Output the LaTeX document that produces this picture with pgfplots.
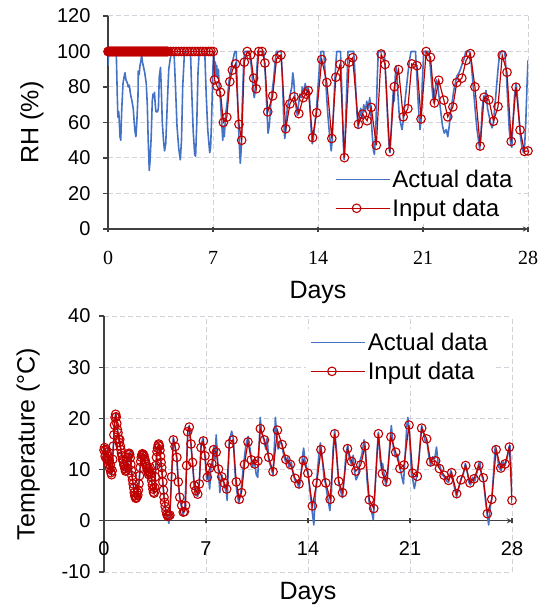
\documentclass[border=0pt]{standalone}
\usepackage{fontspec}
\setmainfont{Liberation Sans}
\newfontfamily\timesfont{Liberation Serif}
\usepackage{pgfplots}
\pgfplotsset{compat=1.18}

\definecolor{actual}{HTML}{4472C4}
\definecolor{inred}{HTML}{C00000}
\definecolor{gridc}{HTML}{D2D2DA}
\definecolor{axisc}{HTML}{404040}

\pgfplotsset{
  panel/.style={
    scale only axis,
    axis y line=left,
    axis line style={axisc, line width=1.3pt, -},
    tick style={axisc, line width=1.3pt},
    tick align=outside, major tick length=5pt,
    grid=major,
    grid style={gridc, line width=1pt, dash pattern=on 5pt off 3pt},
    xmin=0, xmax=28, xtick={0,7,14,21,28},
    /pgf/number format/assume math mode=true,
    ticklabel style={font=\fontsize{20}{24}\selectfont},
    label style={font=\fontsize{25}{30}\selectfont},
    legend cell align=left,
    legend style={draw=none, fill=white, font=\fontsize{24}{28}\selectfont,
      row sep=6pt, inner xsep=4pt, inner ysep=2pt},
    legend image code/.code={
      \draw[mark repeat=2, mark phase=2, #1] plot coordinates {(0pt,0pt) (21pt,0pt) (42pt,0pt)};
      \path (0pt,0pt) -- (54pt,0pt);
    },
  },
  actualline/.style={color=actual, line width=1.6pt, line join=round},
  inputline/.style={color=inred, line width=1.2pt, mark=o, mark size=4.3pt,
    mark options={solid, line width=1.1pt}},
}

\begin{document}
\begin{tikzpicture}
\useasboundingbox (0pt,0pt) rectangle (547pt,-609pt);

% ---------- RH ----------
\begin{axis}[panel,
  at={(108pt,-229pt)}, anchor=south west,
  width=420pt, height=213pt,
  axis x line=bottom,
  ymin=0, ymax=120, ytick={0,20,...,120},
  xticklabel style={font=\timesfont\fontsize{20}{24}\selectfont, yshift=-16pt},
  yticklabel style={xshift=-9pt},
  xlabel={Days}, ylabel={RH (\%)},
  xlabel style={at={(axis description cs:0.5,-0.296)}, anchor=center},
  ylabel style={at={(axis description cs:-0.181,0.5)}, anchor=center},
  legend style={at={(axis description cs:0.53,0.297)}, anchor=north west},
]
\addplot[actualline] coordinates {
(0,92)(0.05,100)(0.55,100)(0.62,75)(0.66,63)(0.72,66)(0.8,52)(0.85,50)(0.92,68)(1.0,82)
(1.08,86)(1.13,88)(1.2,84)(1.3,82)(1.35,80)(1.42,81)(1.5,76)(1.6,72)(1.68,68)(1.75,60)
(1.8,55)(1.86,52)(1.92,60)(2.0,75)(2.02,89)(2.08,87)(2.13,92)(2.2,95)(2.24,98)(2.3,94)
(2.35,92)(2.45,88)(2.55,82)(2.62,70)(2.68,50)(2.75,33)(2.8,38)(2.88,52)(2.95,72)(3.0,76)
(3.05,74)(3.1,77)(3.15,70)(3.2,66)(3.3,66)(3.36,68)(3.42,86)(3.5,91)(3.55,80)(3.62,60)
(3.7,50)(3.77,44)(3.85,48)(3.95,70)(4.05,90)(4.15,96)(4.25,100)(4.4,100)(4.5,80)(4.6,58)
(4.72,45)(4.82,39)(4.9,50)(4.98,80)(5.1,100)(5.5,100)(5.58,78)(5.68,55)(5.78,42)(5.84,41)
(5.92,60)(6.0,88)(6.08,100)(6.45,100)(6.55,75)(6.65,56)(6.78,43)(6.84,46)(6.9,60)(7.0,92)
(7.05,100)(7.12,88)(7.16,94)(7.2,86)(7.25,92)(7.3,85)(7.36,90)(7.42,80)(7.5,72)(7.58,60)
(7.65,50)(7.7,58)(7.75,52)(7.85,65)(7.95,72)(8.05,82)(8.15,88)(8.25,92)(8.35,96)(8.45,100)
(8.55,100)(8.65,70)(8.75,48)(8.82,37)(8.88,45)(8.95,70)(9.05,95)(9.12,100)(9.4,100)(9.55,92)
(9.65,82)(9.75,74)(9.82,78)(9.92,90)(10.0,100)(10.38,100)(10.5,85)(10.6,65)(10.67,54)(10.75,58)
(10.85,70)(10.95,78)(11.05,85)(11.15,95)(11.22,100)(11.55,100)(11.65,80)(11.72,60)(11.78,51)(11.85,55)
(11.95,68)(12.05,72)(12.15,76)(12.25,80)(12.32,88)(12.38,84)(12.45,75)(12.55,68)(12.62,64)(12.7,70)
(12.8,76)(12.9,74)(12.95,80)(13.05,76)(13.15,82)(13.25,77)(13.35,80)(13.45,72)(13.55,55)(13.62,48)
(13.7,52)(13.8,60)(13.9,68)(14.0,80)(14.1,92)(14.2,100)(14.38,100)(14.5,85)(14.65,65)(14.78,52)
(14.88,44)(14.95,50)(15.05,70)(15.15,88)(15.25,100)(15.5,100)(15.6,75)(15.68,50)(15.74,39)(15.82,55)
(15.92,80)(16.0,100)(16.38,100)(16.5,82)(16.6,65)(16.68,57)(16.75,62)(16.85,68)(16.95,62)(17.05,70)
(17.15,66)(17.25,72)(17.35,68)(17.45,74)(17.52,66)(17.6,55)(17.7,44)(17.76,42)(17.85,55)(17.95,85)
(18.02,100)(18.42,100)(18.55,80)(18.65,60)(18.75,45)(18.8,43)(18.88,55)(18.95,68)(19.02,78)(19.08,72)
(19.15,86)(19.22,92)(19.3,80)(19.4,66)(19.5,60)(19.6,56)(19.7,62)(19.8,72)(19.9,80)(20.0,88)
(20.1,95)(20.2,100)(20.5,100)(20.6,84)(20.7,68)(20.8,56)(20.88,62)(20.95,82)(21.05,100)(21.4,100)
(21.55,85)(21.65,75)(21.72,71)(21.8,78)(21.9,84)(22.0,80)(22.1,72)(22.2,65)(22.3,58)(22.42,54)
(22.55,56)(22.65,52)(22.75,58)(22.85,66)(22.95,72)(23.05,78)(23.15,82)(23.25,86)(23.4,88)(23.5,90)
(23.65,94)(23.75,96)(23.85,100)(24.1,100)(24.2,95)(24.3,85)(24.4,75)(24.5,65)(24.6,56)(24.7,50)
(24.78,45)(24.85,52)(24.95,68)(25.05,75)(25.12,72)(25.2,78)(25.3,68)(25.4,64)(25.5,60)(25.6,57)
(25.7,60)(25.8,70)(25.9,80)(26.0,90)(26.1,98)(26.2,100)(26.45,100)(26.55,88)(26.65,72)(26.75,56)
(26.85,48)(26.92,46)(27.0,60)(27.1,75)(27.2,82)(27.28,76)(27.38,65)(27.5,52)(27.6,46)(27.7,43)
(27.76,44)(27.85,60)(27.95,85)(28.0,95)
};
\addlegendentry{Actual data}
\addplot[inputline] coordinates {
(0,100)(0.04,100)(0.08,100)(0.12,100)(0.16,100)(0.2,100)(0.24,100)(0.28,100)(0.32,100)(0.36,100)
(0.4,100)(0.44,100)(0.48,100)(0.52,100)(0.56,100)(0.6,100)(0.64,100)(0.68,100)(0.72,100)(0.76,100)
(0.8,100)(0.84,100)(0.88,100)(0.92,100)(0.96,100)(1.0,100)(1.04,100)(1.08,100)(1.12,100)(1.16,100)
(1.2,100)(1.24,100)(1.28,100)(1.32,100)(1.36,100)(1.4,100)(1.44,100)(1.48,100)(1.52,100)(1.56,100)
(1.6,100)(1.64,100)(1.68,100)(1.72,100)(1.76,100)(1.8,100)(1.84,100)(1.88,100)(1.92,100)(1.96,100)
(2.0,100)(2.04,100)(2.08,100)(2.12,100)(2.16,100)(2.2,100)(2.24,100)(2.28,100)(2.32,100)(2.36,100)
(2.4,100)(2.44,100)(2.48,100)(2.52,100)(2.56,100)(2.6,100)(2.64,100)(2.68,100)(2.72,100)(2.76,100)
(2.8,100)(2.84,100)(2.88,100)(2.92,100)(2.96,100)(3.0,100)(3.04,100)(3.08,100)(3.12,100)(3.16,100)
(3.2,100)(3.24,100)(3.28,100)(3.32,100)(3.36,100)(3.4,100)(3.44,100)(3.48,100)(3.52,100)(3.56,100)
(3.6,100)(3.64,100)(3.68,100)(3.72,100)(3.76,100)(3.8,100)(3.84,100)(3.88,100)(3.92,100)(3.96,100)
(4.0,100)(4.18,100)(4.36,100)(4.54,100)(4.72,100)(4.9,100)(5.08,100)(5.26,100)(5.44,100)(5.62,100)
(5.8,100)(5.98,100)(6.16,100)(6.34,100)(6.52,100)(6.7,100)(6.86,100)(7.02,100)
(7.10,84)(7.27,80.5)(7.50,77)(7.69,60)(7.92,63)(8.12,83)(8.29,89.5)(8.50,93)(8.73,59)(8.91,50)
(9.09,94)(9.28,100)(9.50,98)(9.71,85)(9.88,79)(10.05,100)(10.27,100)(10.46,93.5)(10.65,66)(10.98,75)
(11.24,96)(11.53,98)(11.85,56.5)(12.13,70.5)(12.40,74.5)(12.72,65)(13.02,74)(13.20,76)(13.35,78)(13.64,51.5)
(13.91,65.5)(14.25,95.5)(14.59,82.5)(14.92,51)(15.19,85.5)(15.47,92.7)(15.76,40.2)(16.08,94)(16.31,96.5)(16.69,59)
(16.97,64.7)(17.27,61)(17.55,68.5)(17.89,47.2)(18.21,98.6)(18.47,92.7)(18.78,43.5)(19.09,80.2)(19.37,89.8)(19.68,63.2)
(19.99,67.8)(20.25,93)(20.60,92)(20.87,62)(21.21,100)(21.50,96.7)(21.76,71)(22.05,83.8)(22.39,72.6)(22.65,63.2)
(22.99,68.8)(23.25,82.5)(23.59,85)(23.87,95)(24.16,98.8)(24.46,80.1)(24.81,46.7)(25.07,74.2)(25.39,72.8)(25.70,60.7)
(26.00,69)(26.28,98)(26.60,88.3)(26.88,49.3)(27.20,79.9)(27.47,55.8)(27.76,43.7)(28.00,44)
};
\addlegendentry{Input data}
\end{axis}

% ---------- Temperature ----------
\begin{axis}[panel,
  at={(104pt,-572pt)}, anchor=south west,
  width=408pt, height=256pt,
  axis x line=middle,
  hide obscured x ticks=false, hide obscured y ticks=false,
  ymin=-10, ymax=40, ytick={-10,0,...,40},
  xticklabel style={yshift=-15pt},
  yticklabel style={xshift=-5pt},
  xlabel={Days}, ylabel={Temperature (°C)},
  xlabel style={at={(axis description cs:0.5,-0.082)}, anchor=center, font=\fontsize{25}{30}\selectfont},
  ylabel style={at={(axis description cs:-0.186,0.5)}, anchor=center, font=\fontsize{25}{30}\selectfont},
  legend style={at={(axis description cs:0.495,0.95)}, anchor=north west},
]
\addplot[actualline] coordinates {
(0,13.5)(0.1,14)(0.2,12.5)(0.3,11.8)(0.4,10.2)(0.5,9)(0.55,9.5)(0.65,15)(0.75,20)(0.82,21)
(0.9,18.5)(1.0,16)(1.1,14.8)(1.2,13)(1.3,11.6)(1.4,10.5)(1.5,9.8)(1.6,10.5)(1.7,12.8)(1.8,13.4)
(1.9,9.5)(2.0,7)(2.1,5)(2.2,4.2)(2.3,5.5)(2.4,7.5)(2.5,11)(2.65,13.2)(2.8,12)(3.0,9.8)
(3.15,10.2)(3.3,7)(3.44,5.2)(3.6,12.5)(3.76,15.2)(3.9,11.5)(4.05,7)(4.2,2.5)(4.38,0.5)(4.45,-0.5)
(4.52,1.5)(4.64,9)(4.76,16.3)(4.88,14.5)(5.0,12)(5.1,7.5)(5.2,4.5)(5.33,2.5)(5.44,1.2)(5.55,2.5)
(5.67,11)(5.76,17.8)(5.85,18.6)(5.97,14.8)(6.08,11.0)(6.2,6.5)(6.31,5.0)(6.43,4.8)(6.54,7.5)(6.66,14.8)
(6.8,16.2)(6.93,12.5)(7.05,8.0)(7.15,9.5)(7.25,6.2)(7.35,11)(7.45,10.5)(7.55,14.5)(7.62,12)(7.7,16.8)
(7.8,11.5)(7.88,9.0)(7.95,5.5)(8.08,9)(8.25,7)(8.4,5.5)(8.45,4.0)(8.6,15.5)(8.76,17.5)(8.88,16)
(9.0,9)(9.1,6)(9.25,3.5)(9.4,5.8)(9.6,11.5)(9.75,15)(9.9,16.5)(10.1,12.5)(10.2,10.5)(10.3,12)
(10.45,9.0)(10.55,8.5)(10.65,15)(10.72,20.2)(10.8,17.5)(11.0,15.5)(11.1,14)(11.2,16.2)(11.3,12)(11.5,10)
(11.6,9)(11.7,15)(11.76,20.2)(11.85,17)(11.95,14)(12.1,15.5)(12.2,15)(12.35,12.5)(12.48,11.5)(12.6,12.5)
(12.7,10.5)(12.85,11.5)(13.0,9)(13.1,8)(13.25,7.5)(13.38,6.5)(13.5,8)(13.62,12.5)(13.7,14.2)(13.8,11.5)
(14.0,9.5)(14.15,5.5)(14.3,1.5)(14.4,-0.8)(14.5,5)(14.6,8)(14.75,13)(14.85,15.2)(14.95,13)(15.1,8.5)
(15.22,7.0)(15.35,4.5)(15.5,2.0)(15.6,5)(15.72,14)(15.83,17.6)(15.95,14)(16.1,7.5)(16.22,6)(16.37,4.5)
(16.5,9)(16.6,13)(16.73,14.8)(16.85,12)(17.0,11)(17.1,12.8)(17.2,9.5)(17.3,8)(17.45,9)(17.55,11.5)
(17.7,13)(17.85,15.8)(17.95,13.5)(18.05,8)(18.2,3.5)(18.35,2.0)(18.48,0.2)(18.6,6)(18.75,14)(18.83,17.3)
(18.95,12)(19.05,10)(19.12,11.2)(19.25,8.5)(19.35,6.8)(19.45,8.5)(19.6,14.5)(19.72,18.6)(19.85,14.5)(20.0,12.5)
(20.15,13)(20.3,10.5)(20.45,8.5)(20.55,7.2)(20.65,12)(20.78,18.5)(20.85,20.2)(20.95,17.5)(21.1,9.5)(21.2,7.9)
(21.3,6.3)(21.45,8.5)(21.6,11.5)(21.72,16)(21.8,18.6)(21.9,17.5)(22.05,15.5)(22.15,15.8)(22.3,12.5)(22.42,10.8)
(22.55,12.5)(22.7,12.2)(22.82,14.4)(22.95,10.5)(23.05,10.8)(23.2,9)(23.35,8.6)(23.5,7.8)(23.65,7.5)(23.8,9.8)
(23.9,8.5)(24.05,6.5)(24.2,4.7)(24.35,6.5)(24.5,8.2)(24.65,9)(24.8,11.2)(24.9,10)(25.05,7.5)(25.15,7)
(25.3,8.5)(25.45,7.8)(25.6,9.5)(25.72,11.2)(25.8,11.5)(25.9,9)(26.03,8)(26.2,3.5)(26.33,0.5)(26.4,-0.8)
(26.5,2.5)(26.62,4.5)(26.75,10)(26.85,14.7)(26.95,13.5)(27.1,10.5)(27.25,9.8)(27.4,11.5)(27.52,10.8)(27.65,12)
(27.8,14.5)(27.86,14.7)(27.95,9)(28.0,3.4)
};
\addlegendentry{Actual data}
\addplot[inputline] coordinates {
(0.00,13.8)(0.04,14.3)(0.08,12.6)(0.12,13.9)(0.16,12.2)(0.20,13.4)(0.24,11.8)(0.28,12.6)(0.32,11.0)(0.36,11.8)
(0.40,10.2)(0.44,10.9)(0.48,9.4)(0.52,9.0)(0.56,9.8)(0.60,12.0)(0.64,14.6)(0.68,16.8)(0.72,18.7)(0.76,20.2)
(0.80,20.8)(0.84,20.3)(0.88,19.0)(0.92,17.8)(0.96,17.2)(1.00,16.0)(1.04,15.3)(1.08,15.9)(1.12,14.6)(1.16,13.9)
(1.20,13.2)(1.24,12.7)(1.28,12.0)(1.32,11.6)(1.36,11.0)(1.40,10.7)(1.44,10.2)(1.48,9.7)(1.52,9.9)(1.56,10.4)
(1.60,11.4)(1.64,12.4)(1.68,12.9)(1.72,13.2)(1.76,13.0)(1.80,12.3)(1.84,11.0)(1.88,9.8)(1.92,8.8)(1.96,8.0)
(2.00,7.2)(2.04,6.4)(2.08,5.5)(2.12,4.9)(2.16,4.5)(2.20,4.4)(2.24,4.6)(2.28,5.5)(2.32,5.0)(2.36,6.0)
(2.40,7.2)(2.44,8.8)(2.48,10.4)(2.52,11.6)(2.56,12.4)(2.60,12.9)(2.64,13.1)(2.68,12.8)(2.72,12.9)(2.76,12.5)
(2.80,12.0)(2.84,11.6)(2.88,11.0)(2.92,10.6)(2.96,10.2)(3.00,9.9)(3.04,9.5)(3.08,9.0)(3.12,9.6)(3.16,10.4)
(3.20,9.2)(3.24,8.6)(3.28,7.8)(3.32,7.0)(3.36,6.2)(3.40,5.6)(3.44,5.4)(3.48,6.5)(3.52,8.6)(3.56,10.8)
(3.60,12.4)(3.64,13.5)(3.68,14.2)(3.72,14.8)(3.76,15.0)(3.80,14.6)(3.84,13.8)(3.88,12.6)(3.92,11.4)(3.96,10.4)
(4.00,9.2)(4.04,7.6)(4.08,6.0)(4.12,4.6)(4.16,3.6)(4.20,2.8)(4.26,1.9)(4.32,1.2)(4.38,0.9)(4.45,1.0)
(4.52,1.1)(4.64,8.6)(4.76,15.8)(4.88,14.5)(5.00,12.4)(5.10,7.6)(5.20,4.6)(5.33,3.0)(5.44,1.7)(5.52,1.8)
(5.60,3.0)(5.67,10.8)(5.74,17.4)(5.85,18.3)(5.97,15.0)(6.08,11.4)(6.20,6.9)(6.31,5.9)(6.43,5.2)(6.54,7.2)
(6.66,14.3)(6.82,15.6)(6.93,12.7)(7.09,8.5)(7.25,10.3)(7.40,11.2)(7.52,13.9)(7.70,13.4)(7.86,10.1)(8.08,8.6)
(8.25,7.4)(8.42,6.2)(8.60,15.0)(8.85,15.8)(9.08,7.6)(9.28,4.2)(9.44,5.5)(9.64,11.0)(9.88,15.4)(10.11,11.9)
(10.34,11.1)(10.56,11.7)(10.73,18.0)(11.01,15.8)(11.30,12.4)(11.60,9.6)(11.90,17.7)(12.22,14.9)(12.48,12.0)(12.79,11.0)
(13.11,8.3)(13.38,7.2)(13.68,11.8)(13.99,9.3)(14.30,2.9)(14.60,7.4)(14.89,13.9)(15.22,7.4)(15.52,4.2)(15.83,17.0)
(16.11,7.7)(16.37,5.5)(16.71,14.1)(16.99,11.6)(17.28,9.7)(17.62,10.9)(17.91,14.6)(18.21,4.1)(18.51,2.4)(18.83,17.0)
(19.10,9.2)(19.40,7.6)(19.69,16.4)(20.02,13.4)(20.31,10.2)(20.59,10.9)(20.93,18.7)(21.18,9.3)(21.50,8.7)(21.80,18.1)
(22.14,16.0)(22.42,11.5)(22.76,11.7)(23.02,10.2)(23.34,8.9)(23.64,7.9)(23.86,9.4)(24.20,5.3)(24.50,8.0)(24.82,10.8)
(25.12,7.4)(25.39,8.2)(25.72,10.8)(26.03,8.4)(26.31,1.4)(26.61,4.2)(26.91,13.9)(27.23,10.3)(27.52,11.1)(27.82,14.4)
(28.00,4.0)
};
\addlegendentry{Input data}
\end{axis}
\end{tikzpicture}
\end{document}
